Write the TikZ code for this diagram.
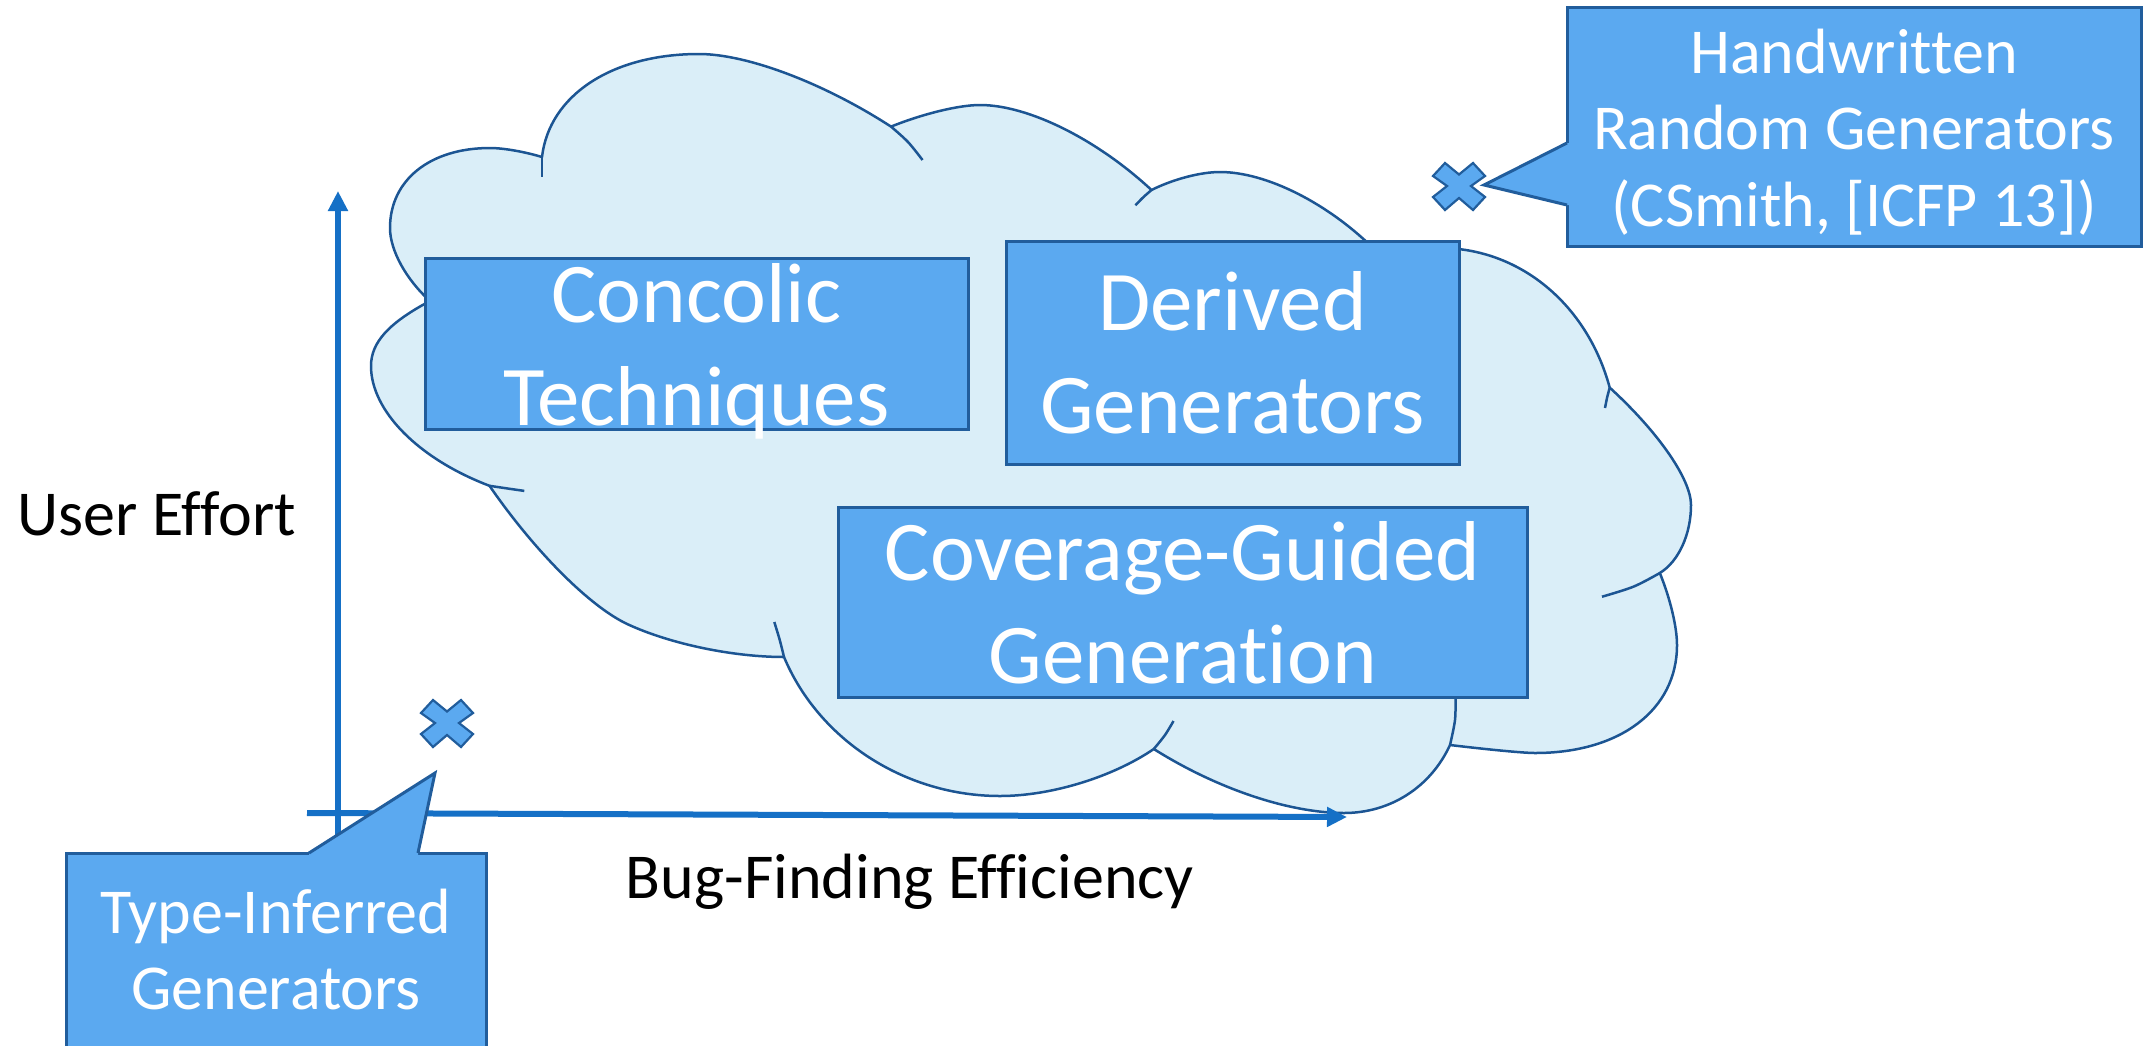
\documentclass[tikz,border=0pt]{standalone}
\usepackage{fontspec}
\setmainfont{Carlito}[Ligatures=NoCommon]
\usetikzlibrary{arrows.meta,calc}
\definecolor{boxfill}{HTML}{5BA9F0}
\definecolor{boxline}{HTML}{215D9C}
\definecolor{cloudfill}{HTML}{DAEEF8}
\definecolor{cloudline}{HTML}{1C5593}
\definecolor{axiscol}{HTML}{1570C6}
% one cloud segment: from #1 to #3, tangent lines meeting at #2, roundness #4
\newcommand\cloudseg[4]{.. controls ($(#1)!#4!(#2)$) and ($(#3)!#4!(#2)$) .. (#3)}
\begin{document}
\begin{tikzpicture}[x=1pt,y=-1pt,
  every node/.style={inner sep=0pt, outer sep=0pt},
  bluebox/.style={draw=boxline, fill=boxfill, line width=3pt, text=white, anchor=north west, font=\fontsize{85}{103}\selectfont},
  callout/.style={draw=boxline, fill=boxfill, line width=3pt, text=white, anchor=north west, font=\fontsize{64}{76.5}\selectfont},
  wedgeline/.style={draw=boxline, line width=3pt, line join=miter},
  axislabel/.style={font=\fontsize{64}{76}\selectfont, text=black, anchor=base},
  axisline/.style={draw=axiscol, line width=6pt, -{Triangle[length=20pt,width=19pt]}},
  cloudshape/.style={fill=cloudfill, draw=cloudline, line width=2.5pt, line join=round},
  cloudtick/.style={draw=cloudline, line width=2.5pt, smooth, tension=0.55},
  crossmark/.style={fill=boxfill, draw=boxline, line width=2.2pt, line join=miter},
]
\useasboundingbox (0,0) rectangle (2144,1045);

% ---------------- cloud: eleven lobes, cusp to cusp
\path[cloudshape] (430,301)
  \cloudseg{430,301}{390,265}{390,228}{0.6}
  \cloudseg{390,228}{390,148}{490,148}{0.6}
  \cloudseg{490,148}{512,148}{542,157}{0.6}
  \cloudseg{542,157}{554,54}{699,54}{0.6}
  \cloudseg{699,54}{779,54}{891,126.6}{0.6}
  \cloudseg{891,126.6}{945,105}{980,105}{0.6}
  \cloudseg{980,105}{1060,105}{1151.5,190}{0.6}
  \cloudseg{1151.5,190}{1187.5,172}{1220,172}{0.6}
  \cloudseg{1220,172}{1297,172}{1375,250}{0.6}
  -- (1410,265) -- (1440,248)
  \cloudseg{1440,248}{1572,248}{1609.7,387.6}{0.6}
  \cloudseg{1609.7,387.6}{1691,462}{1691,505}{0.6}
  \cloudseg{1691,505}{1691,554}{1659.8,573}{0.6}
  \cloudseg{1659.8,573}{1677,615}{1677,645}{0.6}
  \cloudseg{1677,645}{1677,753}{1535,753}{0.6}
  \cloudseg{1535,753}{1517,753}{1450,745}{0.6}
  \cloudseg{1450,745}{1418.7,813}{1344,813}{0.62}
  \cloudseg{1344,813}{1255.4,813}{1153.8,749}{0.62}
  \cloudseg{1153.8,749}{1084.7,796}{1000,796}{0.6}
  \cloudseg{1000,796}{842.4,796}{784,657}{0.6}
  \cloudseg{784,657}{698.9,657}{628,624.4}{0.6}
  \cloudseg{628,624.4}{565.2,595.5}{489.5,485.8}{0.6}
  \cloudseg{489.5,485.8}{371,440.8}{371,366}{0.6}
  \cloudseg{371,366}{371,332.3}{430,301}{0.7}
  -- cycle;
\path[cloudtick] plot coordinates {(542,157) (542,167) (542,177)};
\path[cloudtick] plot coordinates {(891,126.6) (908,142) (922.5,160)};
\path[cloudtick] plot coordinates {(1151.5,190) (1143,197.5) (1135.4,205.3)};
\path[cloudtick] plot coordinates {(1609.7,387.6) (1607,398) (1605,408)};
\path[cloudtick] plot coordinates {(1659.8,573) (1633.6,586.6) (1602,596.7)};
\path[cloudtick] plot coordinates {(1450,745) (1455,720) (1455.5,697)};
\path[cloudtick] plot coordinates {(1153.8,749) (1165,735) (1173.5,721)};
\path[cloudtick] plot coordinates {(784,657) (779.6,639.5) (774.3,622)};
\path[cloudtick] plot coordinates {(489.5,485.8) (507,488.4) (524.3,490.9)};

% ---------------- technique boxes
\node[bluebox, minimum width=543pt, text height=64pt, text depth=107pt] (conc) at (425,258)
  {\begin{tabular}[t]{@{}c@{}}Concolic\\Techniques\end{tabular}};
\node[bluebox, minimum width=453pt, text height=89pt, text depth=134pt] (deriv) at (1006,241)
  {\begin{tabular}[t]{@{}c@{}}Derived\\Generators\end{tabular}};
\node[bluebox, minimum width=689pt, text height=73pt, text depth=117pt] (cov) at (838,507)
  {\begin{tabular}[t]{@{}c@{}}Coverage-Guided\\Generation\end{tabular}};

% ---------------- axes
\coordinate (yb) at (338,870);
\coordinate (yt) at (338,191);
\coordinate (xl) at (307,813);
\coordinate (xr) at (1347,817);
\draw[axisline] (yb) -- (yt);
\draw[axisline] (xl) -- (xr);
\node[axislabel] (ue) at (157,535) {User Effort};
\node[axislabel] (bf) at (910,898) {Bug-Finding Efficiency};

% ---------------- crosses
\coordinate (hwx) at (1459,186);
\coordinate (tix) at (447,723);
\foreach \c in {hwx,tix}
  \draw[crossmark, shift={(\c)}] (0,-11.5) -- (14,-23) -- (26,-10) -- (12,0) -- (26,11) -- (14,24)
     -- (0,12) -- (-14,24) -- (-26,11) -- (-12,0) -- (-26,-10) -- (-14,-23) -- cycle;

% ---------------- callouts
\node[callout, minimum width=574pt, text height=66pt, text depth=173pt] (hw) at (1567,7)
  {\begin{tabular}[t]{@{}c@{}}Handwritten\\Random Generators\\(CSmith, [ICFP 13])\end{tabular}};
\coordinate (hwtip) at (1484,185);
\coordinate (hwb1) at ($(hw.north west)+(0,136)$);
\coordinate (hwb2) at ($(hw.north west)+(0,198)$);
\fill[boxfill] (hwb1) -- (hwtip) -- (hwb2) -- ($(hwb2)+(5,0)$) -- ($(hwb1)+(5,0)$) -- cycle;
\draw[wedgeline] (hwb1) -- (hwtip) -- (hwb2);

\node[callout, minimum width=420pt, text height=80pt, text depth=117pt] (ti) at (66,853)
  {\begin{tabular}[t]{@{}c@{}}Type-Inferred\\Generators\end{tabular}};
\coordinate (titip) at (435,773);
\coordinate (tib1) at ($(ti.north west)+(243,0)$);
\coordinate (tib2) at ($(ti.north west)+(352,0)$);
\fill[boxfill] (tib1) -- (titip) -- (tib2) -- ($(tib2)+(0,5)$) -- ($(tib1)+(0,5)$) -- cycle;
\draw[wedgeline] (tib1) -- (titip) -- (tib2);
\end{tikzpicture}
\end{document}
